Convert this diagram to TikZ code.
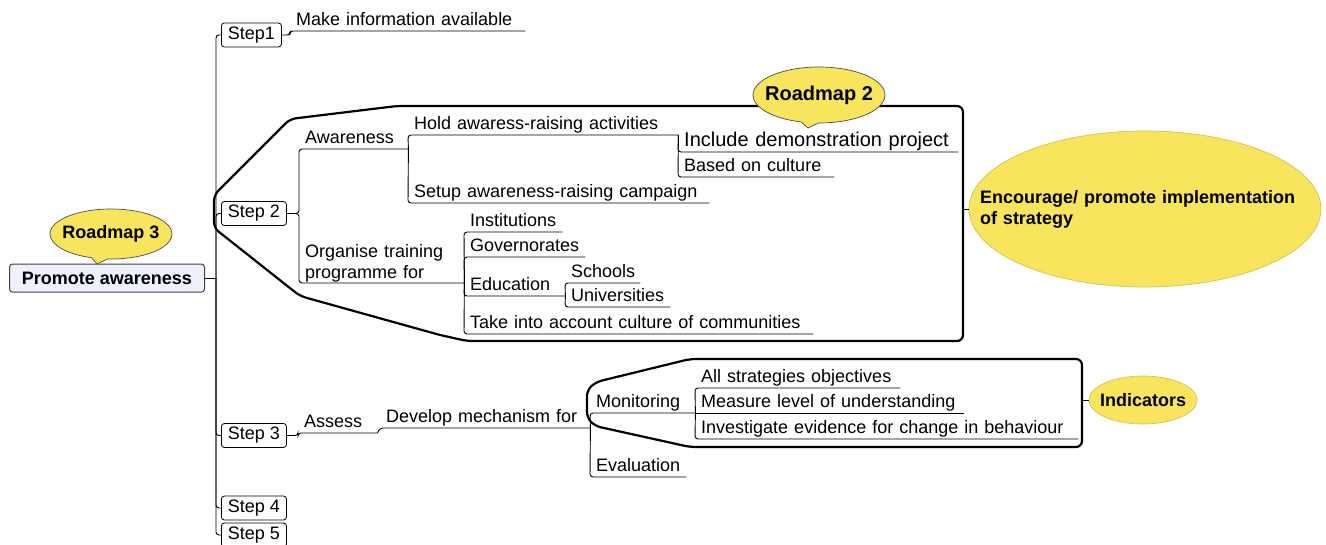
\documentclass[tikz,border=0pt]{standalone}
\usepackage{fontspec}
\setmainfont{Liberation Sans}
\usetikzlibrary{shapes.geometric,shapes.callouts}

\definecolor{mapyellow}{RGB}{249,228,94}
\definecolor{rootfill}{RGB}{238,240,251}

\tikzset{
  every node/.style={font=\fontsize{18}{21}\selectfont},
  topic/.style={anchor=south west, inner xsep=6pt, inner ysep=5.5pt, text depth=0pt, text width=#1pt, align=left},
  stepbox/.style={draw, line width=0.8pt, rounded corners=3pt, anchor=west, inner xsep=6.5pt, minimum height=24pt},
  rootbox/.style={draw=black!75, line width=1pt, rounded corners=3pt, fill=rootfill, font=\fontsize{18}{21}\selectfont\bfseries, minimum width=195pt, minimum height=28pt},
  conn/.style={line width=0.9pt, rounded corners=3pt},
  boundary/.style={line width=2.2pt, rounded corners=6pt, line join=round},
  roadmap/.style={ellipse callout, draw=black!70, line width=0.7pt, fill=mapyellow, inner xsep=-8pt, inner ysep=0pt, font=\fontsize{18}{21}\selectfont\bfseries},
  bubble/.style={ellipse, draw=mapyellow!85!black, line width=0.7pt, fill=mapyellow, inner ysep=0pt, font=\fontsize{18}{21}\selectfont\bfseries}
}

\begin{document}
\begin{tikzpicture}[x=1pt,y=-1pt]
\useasboundingbox (0,0) rectangle (1326,544);
% central topic
\node[rootbox] (root) at (107,278) {Promote awareness};
\node[roadmap, minimum width=122pt, minimum height=50pt, callout absolute pointer={(97,264)}] (rm3) at (111,234) {Roadmap 3};
% steps
\coordinate (trunk) at (216,278);
\node[stepbox] (s1) at (221,35) {Step1};
\node[stepbox] (s2) at (221,213.5) {Step 2};
\node[stepbox] (s3) at (221,435.5) {Step 3};
\node[stepbox] (s4) at (221,508) {Step 4};
\node[stepbox] (s5) at (221,535) {Step 5};
\draw[conn] (root.east) -- (trunk);
\foreach \s in {s1,s2,s3,s4,s5}
  \draw[conn] (trunk) |- (\s.west);
% step 1
\node[topic=223] (make) at (290,31) {Make information available};
% step 2, roadmap 2
\draw[boundary] (397,106) -- (963,106) -- (963,341) -- (467,341) -- (440,335) -- (300,296)
  -- (214,228) -- (214,195) -- (290,119) -- cycle;
\node[topic=97] (aware) at (299,149) {Awareness};
\node[topic=258] (hold) at (408,135) {Hold awaress-raising activities};
\node[topic=289] (setup) at (408,203) {Setup awareness-raising campaign};
\node[topic=268, font=\fontsize{20}{24}\selectfont] (incl) at (678,152) {Include demonstration project};
\node[topic=144] (based) at (678,177) {Based on culture};
\node[topic=153, text depth=20pt] (organ) at (299,283) {Organise training\\programme for};
\node[topic=86] (inst) at (464,232) {Institutions};
\node[topic=109] (gov) at (464,257) {Governorates};
\node[topic=89] (edu) at (464,296) {Education};
\node[topic=63] (school) at (565,283) {Schools};
\node[topic=93] (univ) at (565,307) {Universities};
\node[topic=337] (take) at (464,334) {Take into account culture of communities};
\node[roadmap, font=\fontsize{20}{24}\selectfont\bfseries, minimum width=132pt, minimum height=56pt, callout absolute pointer={(808,128)}] (rm2) at (819,95) {Roadmap 2};
\node[bubble, minimum width=352pt, minimum height=156pt, inner xsep=-45pt, text width=330pt, align=left] (enc) at (1145,209) {Encourage/ promote implementation\\of strategy};
\coordinate (rm2side) at (963,209);
\draw[conn] (rm2side) -- (enc.west);
% step 3
\draw[boundary] (690,359) -- (1082,359) -- (1082,447) -- (690,447) -- (595,426) -- (587,418)
  -- (587,390) -- (596,382) -- cycle;
\node[topic=67] (assess) at (298,433) {Assess};
\node[topic=198] (devel) at (380,428) {Develop mechanism for};
\node[topic=93] (monit) at (590,413) {Monitoring};
\node[topic=84] (evalu) at (590,477) {Evaluation};
\node[topic=193] (allobj) at (695,388) {All strategies objectives};
\node[topic=257] (measure) at (695,413) {Measure level of understanding};
\node[topic=371] (invest) at (695,439) {Investigate evidence for change in behaviour};
\node[bubble, minimum width=108pt, minimum height=48pt, inner xsep=-8pt] (ind) at (1143,400) {Indicators};
\coordinate (monside) at (1082,400);
\draw[conn] (monside) -- (ind.west);
% branches
\foreach \p/\c in {s1/make,s2/aware,s2/organ,s3/assess}
  \draw[conn] (\p.east) -| (\c.south west) -- (\c.south east);
\foreach \p/\c in {aware/hold,aware/setup,hold/incl,hold/based,organ/inst,organ/gov,organ/edu,organ/take,edu/school,edu/univ,assess/devel,devel/monit,devel/evalu,monit/allobj,monit/invest}
  \draw[conn] (\p.south east) -- (\c.south west) -- (\c.south east);
\draw[conn] (measure.south west) -- (measure.south east);
\end{tikzpicture}
\end{document}
